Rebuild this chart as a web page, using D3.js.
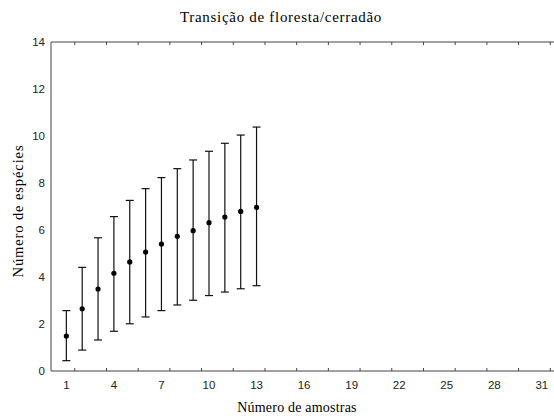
<!DOCTYPE html>
<html><head><meta charset="utf-8">
<script src="https://cdn.jsdelivr.net/npm/d3@7"></script>
<style>body{margin:0;background:#fff}svg{display:block}</style>
</head><body>
<script>
const samples = [1,2,3,4,5,6,7,8,9,10,11,12,13];
const meanValues = [1.49,2.65,3.49,4.16,4.64,5.06,5.40,5.73,5.97,6.31,6.55,6.79,6.96];
const upperValues = [2.57,4.41,5.67,6.57,7.26,7.76,8.23,8.61,8.98,9.35,9.69,10.04,10.38];
const lowerValues = [0.44,0.89,1.32,1.69,2.01,2.30,2.57,2.81,3.01,3.21,3.36,3.50,3.63];
const xTickLabels = [1,4,7,10,13,16,19,22,25,28,31];
const xMinorTicks = [1.5,3.5,5.5,7.5,9.5,11.5,13.5,15.5,17.5,19.5,21.5,23.5,25.5,27.5,29.5,31.5];
const yTickLabels = [0,2,4,6,8,10,12,14];
const title = "Transição de floresta/cerradão";
const xTitle = "Número de amostras";
const yTitle = "Número de espécies";

const W = 554, H = 418;
const svg = d3.select("body").append("svg").attr("width", W).attr("height", H);
const pLeft = 51, pTop = 42, pBottom = 371;
const x = d3.scaleLinear().domain([0, 32]).range([50.5, 557.7]);
const y = d3.scaleLinear().domain([0, 14]).range([pBottom, pTop]);
const axisColor = "#444";
const serif = "Liberation Serif, Times New Roman, serif";
const sans = "Liberation Sans, Arial, sans-serif";

// frame
svg.append("line").attr("x1", pLeft).attr("x2", 560).attr("y1", pTop).attr("y2", pTop).attr("stroke", axisColor);
svg.append("line").attr("x1", pLeft).attr("x2", 560).attr("y1", pBottom).attr("y2", pBottom).attr("stroke", axisColor);
svg.append("line").attr("x1", pLeft).attr("x2", pLeft).attr("y1", pTop).attr("y2", pBottom).attr("stroke", axisColor);

// bottom/top ticks (inside)
const gb = svg.append("g").attr("transform", `translate(0,${pBottom})`)
  .call(d3.axisBottom(x).tickValues(xMinorTicks).tickSize(-3).tickFormat(""));
gb.select(".domain").remove();
gb.selectAll(".tick line").attr("stroke", axisColor);
const gt = svg.append("g").attr("transform", `translate(0,${pTop})`)
  .call(d3.axisTop(x).tickValues(xMinorTicks).tickSize(-3).tickFormat(""));
gt.select(".domain").remove();
gt.selectAll(".tick line").attr("stroke", axisColor);

// x tick labels
svg.append("g").selectAll("text").data(xTickLabels).join("text")
  .attr("x", d => x(d)).attr("y", pBottom + 18)
  .attr("text-anchor", "middle")
  .attr("font-family", sans).attr("font-size", 11.5)
  .attr("fill", "#222").text(d => d);

// y axis labels
const gl = svg.append("g").attr("transform", `translate(${pLeft},0)`)
  .call(d3.axisLeft(y).tickValues(yTickLabels).tickSize(0).tickPadding(6));
gl.select(".domain").remove();
gl.selectAll("text").attr("font-family", sans).attr("font-size", 11.5).attr("fill", "#222");

// error bars
const data = samples.map((s, i) => ({s, m: meanValues[i], hi: upperValues[i], lo: lowerValues[i]}));
const eb = svg.append("g").attr("stroke", "#111").attr("stroke-width", 1.2);
eb.selectAll(".v").data(data).join("line")
  .attr("x1", d => x(d.s)).attr("x2", d => x(d.s))
  .attr("y1", d => y(d.hi)).attr("y2", d => y(d.lo));
eb.selectAll(".ct").data(data).join("line")
  .attr("x1", d => x(d.s) - 4).attr("x2", d => x(d.s) + 4)
  .attr("y1", d => y(d.hi)).attr("y2", d => y(d.hi));
eb.selectAll(".cb").data(data).join("line")
  .attr("x1", d => x(d.s) - 4).attr("x2", d => x(d.s) + 4)
  .attr("y1", d => y(d.lo)).attr("y2", d => y(d.lo));
svg.append("g").selectAll("circle").data(data).join("circle")
  .attr("cx", d => x(d.s)).attr("cy", d => y(d.m)).attr("r", 2.6).attr("fill", "#000");

// titles
svg.append("text").attr("x", 281).attr("y", 22).attr("text-anchor", "middle")
  .attr("font-family", serif).attr("font-size", 15).attr("letter-spacing", 0.7).text(title);
svg.append("text").attr("x", 297).attr("y", 412).attr("text-anchor", "middle")
  .attr("font-family", serif).attr("font-size", 14).attr("letter-spacing", 0.2).text(xTitle);
svg.append("text").attr("transform", `translate(23,211) rotate(-90)`).attr("text-anchor", "middle")
  .attr("font-family", serif).attr("font-size", 14.5).attr("letter-spacing", 0.9).text(yTitle);
</script>
</body></html>
